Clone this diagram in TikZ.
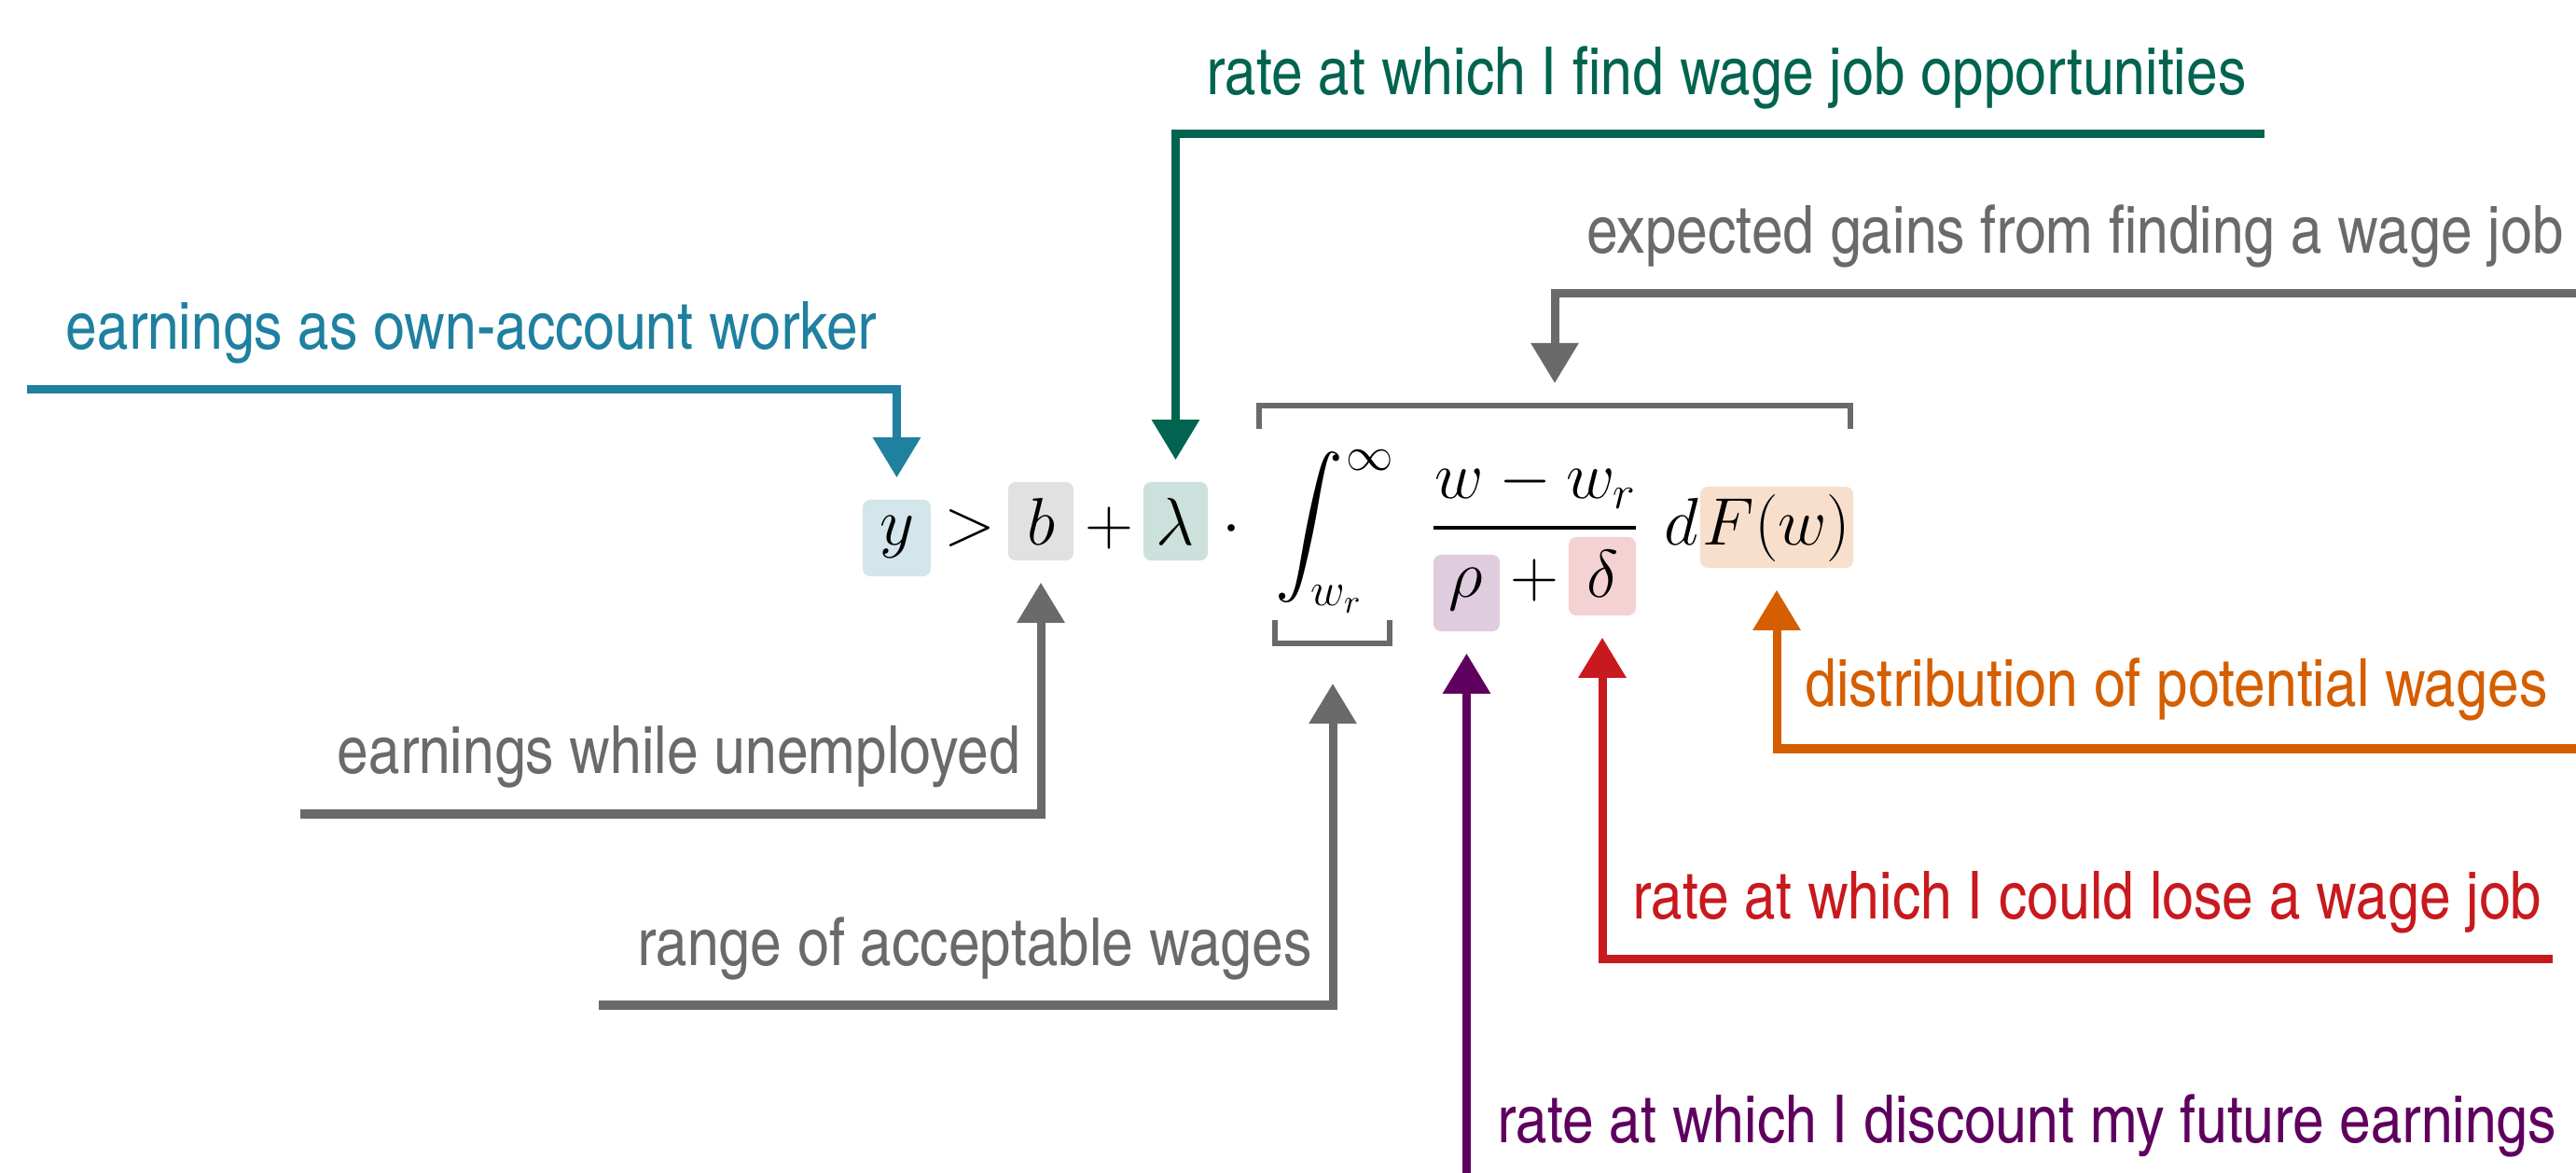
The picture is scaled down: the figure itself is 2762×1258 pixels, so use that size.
\RequirePackage{fix-cm}
\documentclass[tikz,border=0pt]{standalone}
\usepackage{exscale}
\usepackage[no-math]{fontspec}
\usetikzlibrary{arrows.meta}
\newfontfamily\lblfamily[FakeStretch=1.04]{TeX Gyre Heros Cn}
\definecolor{cblue}{HTML}{1F80A0}
\definecolor{cgreen}{HTML}{006450}
\definecolor{cgray}{HTML}{6A6A6A}
\definecolor{cpurple}{HTML}{5F005F}
\definecolor{cred}{HTML}{C8191E}
\definecolor{corange}{HTML}{D55E00}
\newcommand{\lblfont}{\lblfamily\fontsize{20.2pt}{23pt}\selectfont}
\newcommand{\mthfont}{\fontsize{20.5pt}{24pt}\selectfont}
\tikzset{
  arr/.style={line width=0.9mm, line join=miter, -{Triangle[width=4.9mm,length=4.3mm]}, shorten >=2.3mm},
  lbl/.style={font=\lblfont, inner sep=0pt, anchor=base west},
  mth/.style={font=\mthfont, inner sep=0pt, anchor=base},
  hbox/.style={rounded corners=0.8mm, inner sep=0pt, draw=none},
  brk/.style={line width=0.6mm, cgray, line join=miter},
}
\begin{document}
\begin{tikzpicture}[x=0.01cm, y=-0.01cm]
\useasboundingbox (0,0) rectangle (2762,1258);

% highlight boxes
\node[hbox, fill=cblue!20,   minimum width=7.3mm, minimum height=8.2mm] (ybox) at (961.5,577) {};
\node[hbox, fill=cgray!20,   minimum width=7.0mm, minimum height=8.4mm] (bbox) at (1116,559) {};
\node[hbox, fill=cgreen!20,  minimum width=6.9mm, minimum height=8.4mm] (lbox) at (1260.5,559) {};
\node[hbox, fill=cpurple!20, minimum width=7.1mm, minimum height=8.2mm] (rbox) at (1572.5,636) {};
\node[hbox, fill=cred!20,    minimum width=7.2mm, minimum height=8.4mm] (dbox) at (1718,618) {};
\node[hbox, fill=corange!20, minimum width=16.4mm, minimum height=8.7mm] (Fbox) at (1905,565.5) {};

% equation
\node[mth] (yt) at (962,585) {$y$};
\node[mth] (gt) at (1040,585) {$>$};
\node[mth] (bt) at (1116,585) {$b$};
\node[mth] (p1) at (1189,585) {$+$};
\node[mth] (lt) at (1260,585) {$\lambda$};
\node[mth] (cd) at (1321,585) {$\cdot$};
\node[font=\mthfont, inner sep=0pt] (intg) at (1404,566) {$\displaystyle\int$};
\node[font=\mthfont, inner sep=0pt] (sup) at (1469,494) {$\scriptstyle\infty$};
\node[font=\mthfont, inner sep=0pt, anchor=base west] (sub) at (1405,650) {$\scriptstyle w_r$};
\node[mth] (num) at (1647,535) {$w - w_r$};
\draw[line width=0.4mm] (1537,566) -- (1754,566);
\node[mth] (rt) at (1572,641) {$\rho$};
\node[mth] (p2) at (1645,641) {$+$};
\node[mth] (dt) at (1718,641) {$\delta$};
\node[mth] (dd) at (1803,585) {$d$};
\node[mth] (Ft) at (1905,585) {$F(w)$};

% brackets
\draw[brk] (1350,460) -- (1350,435) -- (1984,435) -- (1984,460);
\draw[brk] (1366.5,665) -- (1366.5,690) -- (1490,690) -- (1490,665);
\coordinate (brtop) at (1667,433);
\coordinate (brbot) at (1429,693);

% labels
\node[lbl, text=cblue]   (Lblue)   at (70,375)   {earnings as own-account worker};
\node[lbl, text=cgreen]  (Lgreen)  at (1293,102) {rate at which I find wage job opportunities};
\node[lbl, text=cgray]   (Lgains)  at (1701,272) {expected gains from finding a wage job};
\node[lbl, text=cgray]   (Lunemp)  at (361,830)  {earnings while unemployed};
\node[lbl, text=cgray]   (Lrange)  at (683,1035) {range of acceptable wages};
\node[lbl, text=corange] (Lorange) at (1935,758) {distribution of potential wages};
\node[lbl, text=cred]    (Lred)    at (1750,985) {rate at which I could lose a wage job};
\node[lbl, text=cpurple] (Lpurple) at (1605,1225) {rate at which I discount my future earnings};

% connector free ends
\coordinate (sblue)   at (29,418);
\coordinate (sgreen)  at (2428,144);
\coordinate (sgains)  at (2762,315);
\coordinate (sunemp)  at (322,873);
\coordinate (srange)  at (642,1078);
\coordinate (sorange) at (2762,803);
\coordinate (sred)    at (2737,1028.5);
\coordinate (spurple) at (1572.5,1258);

% connectors
\draw[arr, cblue]   (sblue)   -| (ybox.north);
\draw[arr, cgreen]  (sgreen)  -| (lbox.north);
\draw[arr, cgray, shorten >=2.2mm] (sgains) -| (brtop);
\draw[arr, cgray]   (sunemp)  -| (bbox.south);
\draw[arr, cgray, shorten >=4.0mm] (srange) -| (brbot);
\draw[arr, corange] (sorange) -| (Fbox.south);
\draw[arr, cred]    (sred)    -| (dbox.south);
\draw[arr, cpurple] (spurple) -- (rbox.south);
\end{tikzpicture}
\end{document}
